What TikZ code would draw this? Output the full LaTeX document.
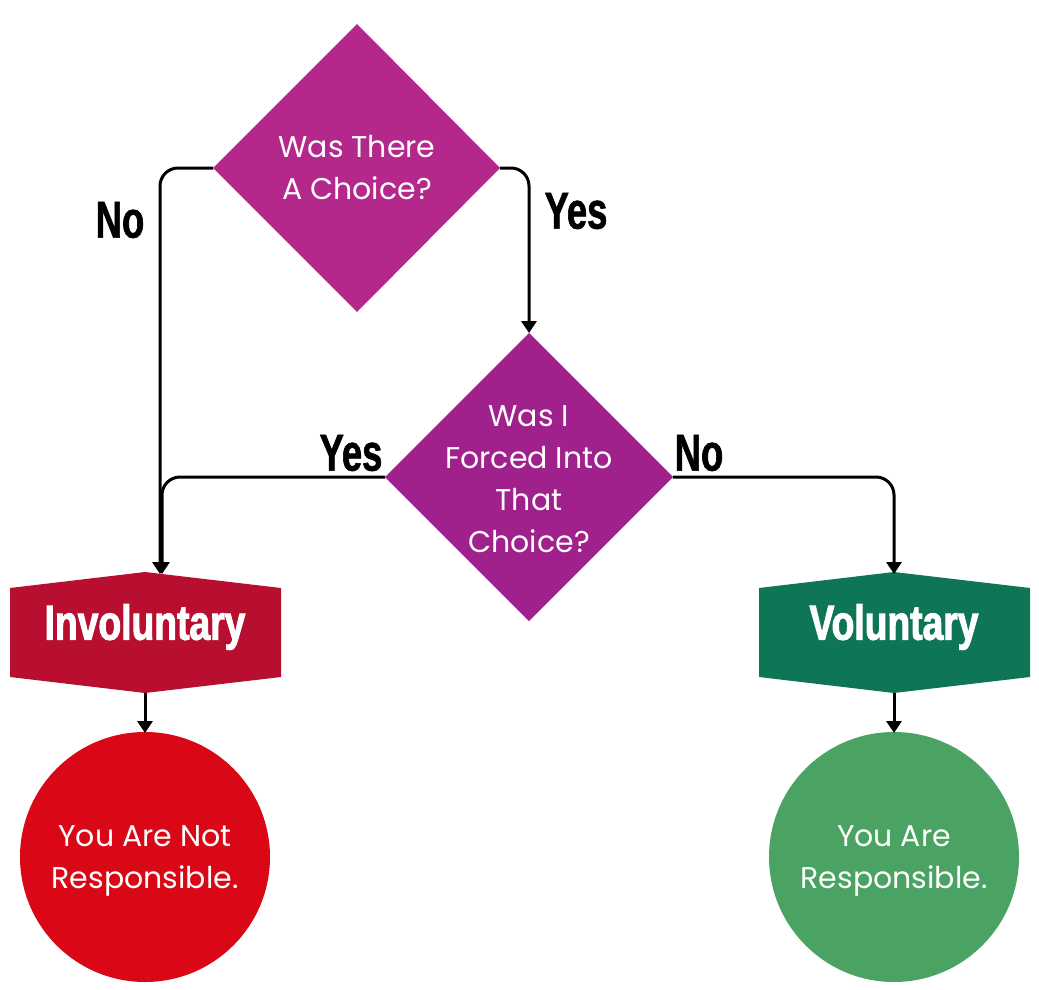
\documentclass[tikz,border=0pt]{standalone}
\usepackage{fontspec}
\setmainfont{Poppins}
\newfontfamily\condfont[FakeStretch=0.70,FakeBold=1.2]{Liberation Sans Bold}
\newfontfamily\hexfont[FakeStretch=0.76,FakeBold=2]{Liberation Sans Bold}
\usetikzlibrary{arrows.meta}
\definecolor{magA}{RGB}{180,40,140}
\definecolor{magB}{RGB}{160,32,140}
\definecolor{crim}{RGB}{184,14,48}
\definecolor{dgreen}{RGB}{15,117,87}
\definecolor{cred}{RGB}{218,8,22}
\definecolor{lgreen}{RGB}{74,163,98}
\tikzset{
  body/.style={text=white, font=\fontsize{30}{42}\selectfont, align=center},
  lbl/.style={font=\condfont\fontsize{52}{52}\selectfont, text=black},
  hexlbl/.style={font=\hexfont\fontsize{49}{49}\selectfont, text=white},
  conn/.style={line width=3pt, rounded corners=18pt, -{Triangle[width=15pt,length=12pt]}},
}
\begin{document}
\begin{tikzpicture}[x=1pt,y=-1pt]
\useasboundingbox (0,0) rectangle (1039,990);
% diamonds
\fill[magA] (357,24) -- (500,168) -- (357,312) -- (213,168) -- cycle;
\fill[magB] (529,333) -- (673,477) -- (529,621) -- (385,477) -- cycle;
\node[body] (d1) at (357,168) {Was There\\A Choice?};
\node[body] (d2) at (529,479) {Was I\\Forced Into\\That\\Choice?};
\coordinate (d1l) at (213,168);
\coordinate (d1r) at (500,168);
\coordinate (d2t) at (529,333);
\coordinate (d2l) at (385,477);
\coordinate (d2r) at (673,477);
% hexagons
\fill[crim] (145,572) -- (281,588) -- (281,677) -- (145,693) -- (10,677) -- (10,588) -- cycle;
\fill[dgreen] (894,572) -- (1030,588) -- (1030,677) -- (894,693) -- (759,677) -- (759,588) -- cycle;
\node[hexlbl] (h1) at (145,627) {Involuntary};
\node[hexlbl] (h2) at (894,627) {Voluntary};
\coordinate (h1t) at (160,574);
\coordinate (h2t) at (894,574);
\coordinate (h1b) at (145,693);
\coordinate (h2b) at (894,693);
% circles
\fill[cred] (145,857) circle (125);
\fill[lgreen] (894,857) circle (125);
\node[body] (c1) at (145,861) {You Are Not\\Responsible.};
\node[body] (c2) at (894,861) {You Are\\Responsible.};
\coordinate (c1t) at (145,733);
\coordinate (c2t) at (894,733);
% connectors
\draw[conn] (d1l) -- (160,168) -- (h1t);
\draw[conn] (d2l) -- (162,477) -- (162,574);
\draw[conn] (d1r) -- (529,168) -- (d2t);
\draw[conn] (d2r) -- (894,477) -- (h2t);
\draw[conn] (h1b) -- (c1t);
\draw[conn] (h2b) -- (c2t);
% labels
\node[lbl] (no1) at (120,220) {No};
\node[lbl] (yes1) at (576,211) {Yes};
\node[lbl] (yes2) at (351,453) {Yes};
\node[lbl] (no2) at (699,453) {No};
\end{tikzpicture}
\end{document}
